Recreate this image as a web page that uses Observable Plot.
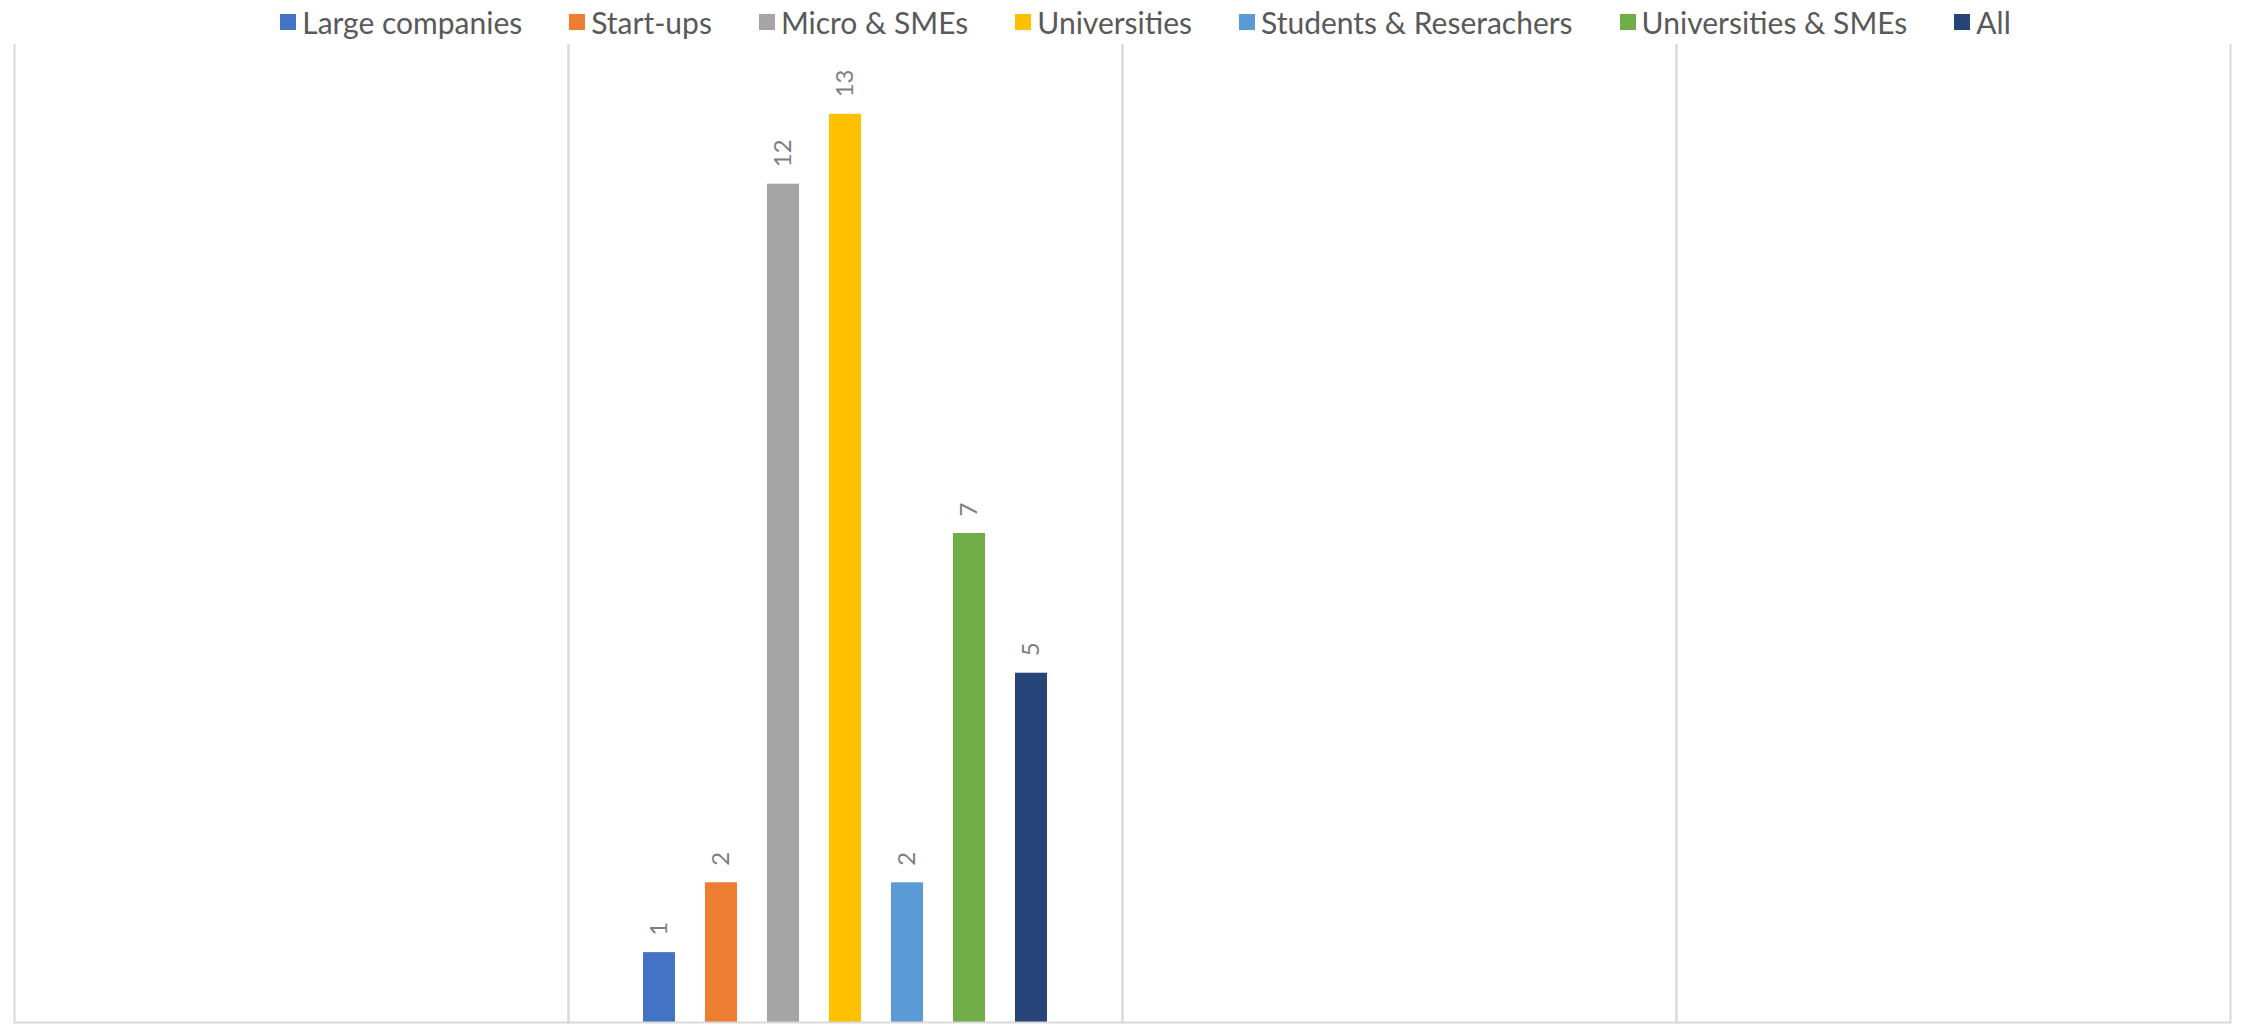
<!DOCTYPE html>
<html><head><meta charset="utf-8">
<script src="https://cdn.jsdelivr.net/npm/d3@7"></script>
<script src="https://cdn.jsdelivr.net/npm/@observablehq/plot@0.6"></script>
<style>
body{margin:0;background:#fff;width:2241px;height:1027px;overflow:hidden;font-family:Lato,sans-serif}
#legend{height:44px;display:flex;justify-content:center;align-items:center;gap:47px;font-size:30px;color:#595959;padding-left:50px;box-sizing:border-box}
.item{display:flex;align-items:center;gap:6px}
.sw{width:16px;height:16px;display:inline-block}
#chart svg{display:block}
</style></head><body><div id="legend"></div><div id="chart"></div>
<script>
const categories = ["Group 1", "Group 2", "Group 3", "Group 4"];
const series = ["Large companies", "Start-ups", "Micro & SMEs", "Universities", "Students & Reserachers", "Universities & SMEs", "All"];
const colors = ["#4472C4", "#ED7D31", "#A5A5A5", "#FFC000", "#5B9BD5", "#70AD47", "#264478"];
const largeCompanies   = [null, 1, null, null];
const startUps         = [null, 2, null, null];
const microSMEs        = [null, 12, null, null];
const universities     = [null, 13, null, null];
const studentsResearch = [null, 2, null, null];
const universitiesSMEs = [null, 7, null, null];
const all              = [null, 5, null, null];
const seriesValues = [largeCompanies, startUps, microSMEs, universities, studentsResearch, universitiesSMEs, all];

const rows = [];
categories.forEach((c, ci) => series.forEach((s, si) => rows.push({category: c, series: s, value: seriesValues[si][ci]})));

const legend = document.getElementById("legend");
series.forEach((s, i) => {
  const it = document.createElement("div"); it.className = "item";
  const sw = document.createElement("span"); sw.className = "sw"; sw.style.background = colors[i];
  const t = document.createElement("span"); t.textContent = s;
  it.appendChild(sw); it.appendChild(t); legend.appendChild(it);
});

const grid = {stroke: "#d9d9d9", strokeWidth: 2};
const chart = Plot.plot({
  width: 2241, height: 983,
  marginTop: 0, marginBottom: 5, marginLeft: 13, marginRight: 10,
  style: {fontFamily: "Lato, sans-serif", background: "#fff"},
  fx: {domain: categories, padding: 0, axis: null},
  x: {domain: series, paddingInner: 0.477, paddingOuter: 1.175, axis: null},
  y: {domain: [0, 14], axis: null},
  color: {domain: series, range: colors},
  marks: [
    Plot.frame({anchor: "left", ...grid}),
    Plot.frame({anchor: "right", ...grid}),
    Plot.barY(rows, {fx: "category", x: "series", y: "value", fill: "series"}),
    Plot.ruleY([0], grid),
    Plot.text(rows, {fx: "category", x: "series", y: "value", text: "value", rotate: -90, textAnchor: "start", dy: -17, fill: "#7f7f7f", fontSize: 24})
  ]
});
document.getElementById("chart").appendChild(chart);
</script></body></html>
